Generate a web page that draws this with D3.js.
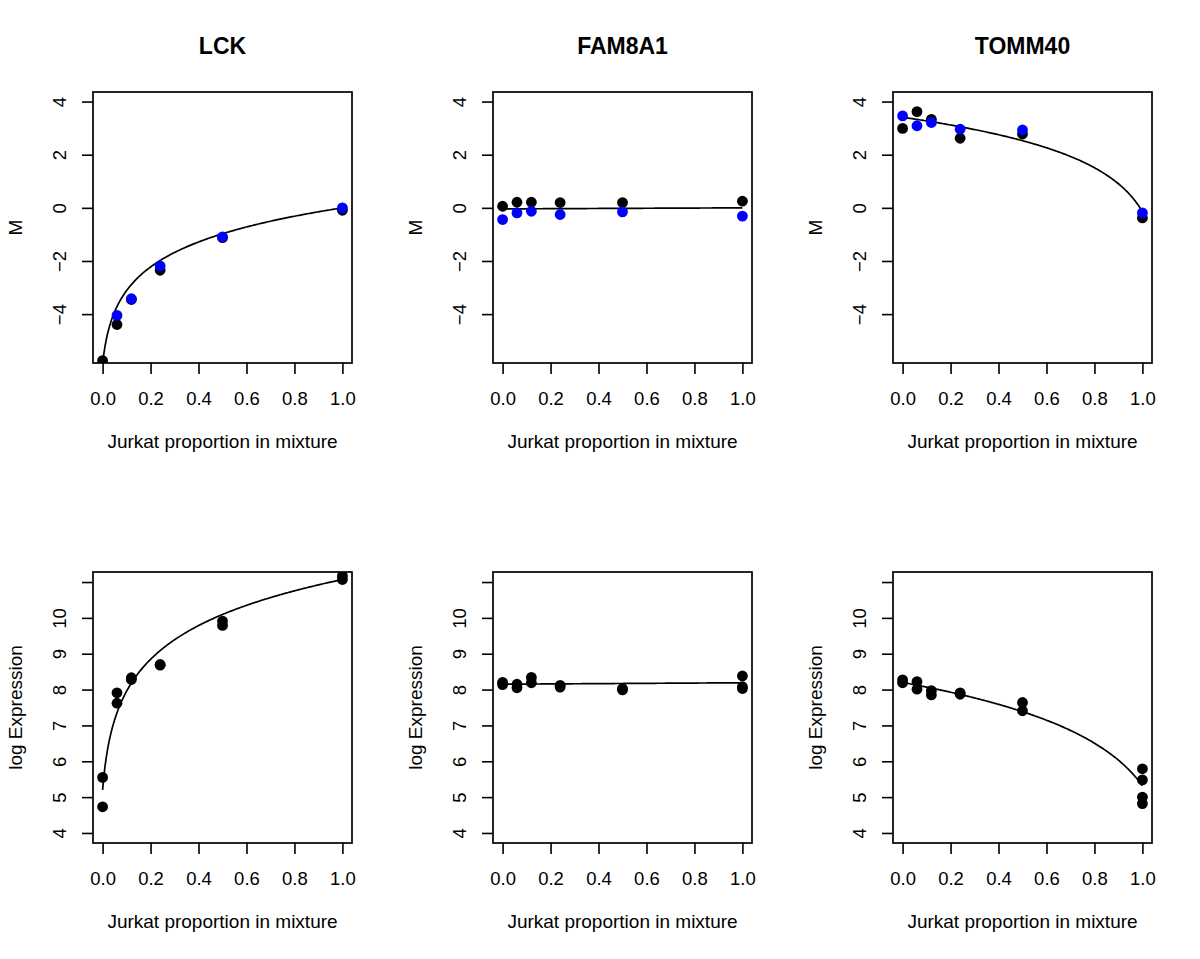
<!DOCTYPE html>
<html>
<head>
<meta charset="utf-8">
<script src="https://cdn.jsdelivr.net/npm/d3@7"></script>
<style>
  html, body { margin: 0; padding: 0; background: #fff; }
  svg { display: block; }
  text { font-family: "Liberation Sans", Arial, Helvetica, sans-serif; fill: #000; }
</style>
</head>
<body>
<svg id="chart" width="1200" height="959"></svg>
<script>
// ---------------- data ----------------
const genes = ["LCK", "FAM8A1", "TOMM40"];
const proportions = [0, 0.06, 0.12, 0.24, 0.5, 1];
const xTicks = [0, 0.2, 0.4, 0.6, 0.8, 1.0];
const mTicks = [-4, -2, 0, 2, 4];
const exprTicks = [4, 5, 6, 7, 8, 9, 10, 11];
const exprTickLabels = ["4", "5", "6", "7", "8", "9", "10", ""];

// M values (black = replicate 1, blue = replicate 2); null = not visible
const lckM1    = [-5.75, -4.39, -3.45, -2.35, -1.12, -0.09];
const lckM2    = [null,  -4.05, -3.42, -2.19, -1.09,  0.00];
const fam8a1M1 = [0.06, 0.21, 0.21, 0.20, 0.20, 0.25];
const fam8a1M2 = [-0.44, -0.19, -0.13, -0.25, -0.15, -0.31];
const tomm40M1 = [2.99, 3.62, 3.33, 2.62, 2.78, -0.38];
const tomm40M2 = [3.46, 3.09, 3.21, 2.96, 2.93, -0.19];

// log expression values, one list per mixture proportion
const lckExpr = [[5.55, 4.73], [7.91, 7.62], [8.33, 8.28], [8.70, 8.68], [9.91, 9.79], [11.17, 11.07]];
const fam8a1Expr = [[8.20, 8.14], [8.15, 8.05], [8.34, 8.19], [8.12, 8.07], [8.03, 7.99], [8.38, 8.08, 8.03]];
const tomm40Expr = [[8.27, 8.19], [8.22, 8.01], [7.97, 7.85], [7.91, 7.87], [7.64, 7.41], [5.79, 5.48, 5.00, 4.82]];

// fitted mixture-model levels [at proportion 0, at proportion 1] (log2 scale)
const lckFitM = [-5.87, 0.0];
const fam8a1FitM = [-0.04, 0.0];
const tomm40FitM = [3.41, -0.15];
const lckFitExpr = [5.2, 11.07];
const fam8a1FitExpr = [8.15, 8.19];
const tomm40FitExpr = [8.2, 5.32];

const mSeries1 = [lckM1, fam8a1M1, tomm40M1];
const mSeries2 = [lckM2, fam8a1M2, tomm40M2];
const exprSeries = [lckExpr, fam8a1Expr, tomm40Expr];
const fitM = [lckFitM, fam8a1FitM, tomm40FitM];
const fitExpr = [lckFitExpr, fam8a1FitExpr, tomm40FitExpr];

// ---------------- drawing ----------------
const svg = d3.select("#chart");
const TICKFONT = 18.5, LABFONT = 19, TITLEFONT = 23;
const colW = 400, rowH = 480;
const boxL = 93, boxR = 352, boxT = 92, boxB = 363;
const R = 5.4;

function mixCurve(fit) {
  // log2( p*2^b + (1-p)*2^a )
  const a = fit[0], b = fit[1];
  return d3.range(0, 1.00001, 0.005).map(p => [p, Math.log2(p * Math.pow(2, b) + (1 - p) * Math.pow(2, a))]);
}

const fmtNum = v => String(v).replace("-", "\u2212");

let clipId = 0;
function panel(col, row, title, yDomain, yTicks, yTickLabels, yLabel, pointsBlack, pointsBlue, fit) {
  const g = svg.append("g").attr("transform", `translate(${col * colW},${row * rowH})`);
  const x = d3.scaleLinear().domain([-0.04, 1.04]).range([boxL, boxR]);
  const y = d3.scaleLinear().domain(yDomain).range([boxB, boxT]);

  const id = "clip" + (clipId++);
  g.append("clipPath").attr("id", id).append("rect")
    .attr("x", boxL).attr("y", boxT).attr("width", boxR - boxL).attr("height", boxB - boxT);

  // curve
  g.append("path")
    .datum(mixCurve(fit))
    .attr("clip-path", `url(#${id})`)
    .attr("fill", "none").attr("stroke", "#000").attr("stroke-width", 1.7)
    .attr("d", d3.line().x(d => x(d[0])).y(d => y(d[1])));

  // points
  const pg = g.append("g").attr("clip-path", `url(#${id})`);
  pg.selectAll("circle.k").data(pointsBlack.filter(d => d[1] != null)).enter().append("circle")
    .attr("cx", d => x(d[0])).attr("cy", d => y(d[1])).attr("r", R).attr("fill", "#000");
  if (pointsBlue) {
    pg.selectAll("circle.b").data(pointsBlue.filter(d => d[1] != null)).enter().append("circle")
      .attr("cx", d => x(d[0])).attr("cy", d => y(d[1])).attr("r", R).attr("fill", "#0000ff");
  }

  // box
  g.append("rect").attr("x", boxL).attr("y", boxT).attr("width", boxR - boxL).attr("height", boxB - boxT)
    .attr("fill", "none").attr("stroke", "#000").attr("stroke-width", 1.7);

  // x axis
  const xAxis = d3.axisBottom(x).tickValues(xTicks).tickFormat(d3.format(".1f")).tickSize(11);
  const xa = g.append("g").attr("transform", `translate(0,${boxB})`).call(xAxis);
  xa.select(".domain").remove();
  xa.attr("font-size", null).attr("font-family", null);
  xa.selectAll(".tick line").attr("stroke-width", 1.6);
  xa.selectAll(".tick text").attr("font-size", TICKFONT).attr("dy", null).attr("y", 42);

  // y axis
  const yAxis = d3.axisLeft(y).tickValues(yTicks).tickFormat((d, i) => yTickLabels[i]).tickSize(11);
  const ya = g.append("g").attr("transform", `translate(${boxL},0)`).call(yAxis);
  ya.select(".domain").remove();
  ya.attr("font-size", null).attr("font-family", null);
  ya.selectAll(".tick line").attr("stroke-width", 1.6);
  ya.selectAll(".tick text")
    .attr("font-size", TICKFONT)
    .attr("x", null).attr("dy", null)
    .attr("text-anchor", "middle")
    .attr("transform", "translate(-27.5,0) rotate(-90)");

  // labels
  if (title) {
    g.append("text").attr("x", (boxL + boxR) / 2).attr("y", 54).attr("text-anchor", "middle")
      .attr("font-size", TITLEFONT).attr("font-weight", "bold").text(title);
  }
  g.append("text").attr("x", (boxL + boxR) / 2).attr("y", 448).attr("text-anchor", "middle")
    .attr("font-size", LABFONT).text("Jurkat proportion in mixture");
  g.append("text").attr("transform", `translate(21.5,${(boxT + boxB) / 2}) rotate(-90)`).attr("text-anchor", "middle")
    .attr("font-size", LABFONT).text(yLabel);
}

genes.forEach((gene, i) => {
  const black = proportions.map((p, j) => [p, mSeries1[i][j]]);
  const blue = proportions.map((p, j) => [p, mSeries2[i][j]]);
  panel(i, 0, gene, [-5.84, 4.36], mTicks, mTicks.map(fmtNum), "M", black, blue, fitM[i]);

  const pts = [];
  proportions.forEach((p, j) => exprSeries[i][j].forEach(v => pts.push([p, v])));
  panel(i, 1, null, [3.72, 11.28], exprTicks, exprTickLabels, "log Expression", pts, null, fitExpr[i]);
});
</script>
</body>
</html>
